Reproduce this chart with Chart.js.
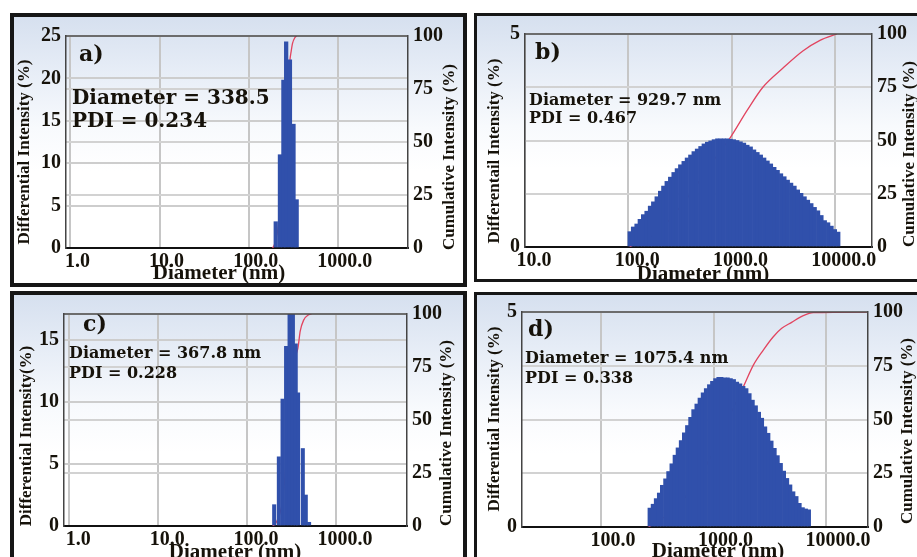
<!DOCTYPE html>
<html>
<head>
<meta charset="utf-8">
<script src="https://cdn.jsdelivr.net/npm/chart.js@4.4.0/dist/chart.umd.min.js"></script>
<style>
html, body { margin: 0; padding: 0; width: 917px; height: 557px; overflow: hidden; background: #fff; position: relative; }
.panel { position: absolute; box-sizing: border-box; border: 4px solid #161616;
  background: linear-gradient(to bottom, #d6e0ef 0%, #e8eef7 22%, #f8fafd 42%, #fff 58%); }
.panel canvas { position: absolute; left: 0; top: 0; }
</style>
</head>
<body>
<div class="panel" style="left:10px;top:13px;width:457px;height:274px"><canvas id="chart-a" width="449" height="266"></canvas></div>
<div class="panel" style="left:474px;top:13px;width:460px;height:269px;border-width:3px"><canvas id="chart-b" width="454" height="263"></canvas></div>
<div class="panel" style="left:10px;top:291px;width:457px;height:280px"><canvas id="chart-c" width="449" height="272"></canvas></div>
<div class="panel" style="left:474px;top:292px;width:460px;height:280px;border-width:3px"><canvas id="chart-d" width="454" height="274"></canvas></div>
<script>
// ---- sample a ----
const aDiam = [201, 224, 245, 263, 290, 318, 345]
const aInt = [3.1, 11.0, 19.8, 24.3, 22.2, 14.6, 5.7]
const aCumDiam = [185, 196, 218, 240, 263, 289, 300, 310, 330, 344]
const aCum = [0, 2, 12, 32, 60, 88, 93, 96.5, 99.3, 100]

// ---- sample b ----
const bDiam = [103, 111, 120, 129, 139, 150, 162, 174, 188, 203, 218, 235, 254, 274, 295, 318, 343, 369, 398, 429,
  462, 499, 537, 579, 624, 673, 726, 782, 843, 909, 980, 1056, 1138, 1227, 1323, 1426, 1537, 1657, 1786, 1925,
  2075, 2237, 2412, 2600, 2802, 3020, 3256, 3510, 3783, 4078, 4395, 4738, 5107, 5505, 5935, 6397, 6896, 7433,
  8012, 8637, 9311, 10037, 10819]
const bInt = [0.36, 0.47, 0.54, 0.65, 0.76, 0.84, 0.96, 1.06, 1.18, 1.31, 1.43, 1.54, 1.64, 1.75, 1.84, 1.93, 2.01,
  2.09, 2.16, 2.24, 2.30, 2.36, 2.42, 2.46, 2.49, 2.52, 2.54, 2.54, 2.54, 2.54, 2.53, 2.52, 2.50, 2.47, 2.44, 2.39,
  2.35, 2.28, 2.22, 2.16, 2.09, 2.02, 1.95, 1.87, 1.80, 1.72, 1.65, 1.57, 1.50, 1.43, 1.34, 1.26, 1.18, 1.10, 1.02,
  0.93, 0.85, 0.74, 0.62, 0.57, 0.49, 0.41, 0.35]
const bCumDiam = [103, 200, 400, 700, 980, 1410, 2010, 3150, 4900, 7180, 10500]
const bCum = [0, 8, 25, 42, 51.6, 64, 75, 84, 92, 97, 100]

// ---- sample c ----
const cDiam = [202, 228, 251, 275, 301, 328, 353, 375, 424, 458, 499]
const cInt = [1.72, 5.58, 10.24, 14.5, 17.1, 17.1, 14.7, 10.75, 6.25, 2.5, 0.3]
const cCumDiam = [195, 215, 251, 275, 301, 328, 353, 374, 397, 432, 495, 530]
const cCum = [0, 2, 12, 30, 50, 68, 80, 84, 92, 97, 99.7, 100]

// ---- sample d ----
const dDiam = [270, 288, 307, 327, 348, 372, 396, 423, 451, 480, 512, 546, 582, 621, 661, 705, 752, 802, 855, 912,
  971, 1035, 1104, 1177, 1256, 1340, 1426, 1521, 1622, 1730, 1845, 1963, 2094, 2234, 2382, 2541, 2704, 2884, 3076,
  3281, 3499, 3724, 3972, 4236, 4519, 4819, 5129, 5470, 5834, 6223, 6637, 7063]
const dInt = [0.44, 0.53, 0.66, 0.79, 0.97, 1.12, 1.29, 1.47, 1.67, 1.84, 2.01, 2.19, 2.36, 2.55, 2.73, 2.86, 3.00,
  3.12, 3.22, 3.31, 3.39, 3.45, 3.48, 3.48, 3.47, 3.47, 3.45, 3.43, 3.37, 3.33, 3.27, 3.22, 3.10, 2.95, 2.82, 2.67,
  2.53, 2.33, 2.18, 2.00, 1.83, 1.66, 1.48, 1.30, 1.13, 0.98, 0.82, 0.71, 0.55, 0.45, 0.42, 0.40]
const dCumDiam = [265, 480, 912, 1345, 1870, 2260, 2770, 3400, 4040, 4950, 6280, 7710, 23000]
const dCum = [0, 9.7, 31, 50, 66, 75.3, 82.3, 88.5, 92.4, 95.2, 98.3, 99.7, 100]

// axis ticks (diameters in nm, intensities in %)
const xTicksAC = [1, 10, 100, 1000]
const xTicksB = [10, 100, 1000, 10000]
const xTicksD = [100, 1000, 10000]
const yTicksA = [0, 5, 10, 15, 20, 25]
const yTicksBD = [0, 5]
const yTicksC = [0, 5, 10, 15]
const cumTicks = [0, 25, 50, 75, 100]

const ink = '#16120a'
const serif = '"Liberation Serif", "Times New Roman", serif'
const tickFont = {family: serif, size: 20, weight: 'bold'}

function vText(ctx, text, x, y){
    ctx.save()
    ctx.translate(x, y)
    ctx.rotate(-Math.PI / 2)
    ctx.fillText(text, 0, 0)
    ctx.restore()
}

function makePanel(id, o){
    const deco = {
        id: 'deco',
        afterDraw(chart){
            const {ctx, chartArea: ca} = chart
            ctx.save()
            // top edge of the plot frame
            ctx.strokeStyle = '#4a4a4a'
            ctx.lineWidth = 1.5
            ctx.beginPath()
            ctx.moveTo(ca.left, ca.top)
            ctx.lineTo(ca.right, ca.top)
            ctx.stroke()

            ctx.fillStyle = ink
            ctx.textAlign = 'center'
            ctx.textBaseline = 'middle'
            ctx.font = `bold 17px ${serif}`
            vText(ctx, o.yTitle, o.yTitlePos[0], o.yTitlePos[1])
            vText(ctx, 'Cumulative Intensity (%)', o.y2TitlePos[0], o.y2TitlePos[1])
            ctx.font = `bold 21px ${serif}`
            ctx.fillText('Diameter (nm)', o.xTitlePos[0], o.xTitlePos[1])

            ctx.textAlign = 'left'
            ctx.textBaseline = 'alphabetic'
            ctx.font = 'bold 22px "DejaVu Serif"'
            ctx.fillText(o.letter, o.letterPos[0], o.letterPos[1])
            ctx.font = `bold ${o.noteSize}px "DejaVu Serif"`
            o.notes.forEach((t, i) => ctx.fillText(t, o.notePos[0], o.notePos[1] + i * o.noteGap))
            ctx.restore()
        }
    }

    return new Chart(document.getElementById(id), {
        type: 'bar',
        data: {
            datasets: [{
                type: 'bar',
                data: o.diam.map((d, i) => ({x: Math.log10(d), y: o.inten[i]})),
                backgroundColor: '#3050ab',
                borderWidth: 0,
                barThickness: o.thick,
                yAxisID: 'y',
                order: 1
            }, {
                type: 'line',
                data: o.cumDiam.map((d, i) => ({x: Math.log10(d), y: o.cum[i]})),
                borderColor: '#e2445f',
                borderWidth: 1.3,
                pointRadius: 0,
                cubicInterpolationMode: 'monotone',
                yAxisID: 'y2',
                order: 2
            }]
        },
        options: {
            responsive: false,
            animation: false,
            events: [],
            layout: {padding: {top: o.pad.t, left: 0, right: 0, bottom: 0}},
            plugins: {legend: {display: false}, tooltip: {enabled: false}},
            scales: {
                x: {
                    type: 'linear', min: o.xMin, max: o.xMax, offset: false,
                    afterBuildTicks: s => { s.ticks = o.xTicks.map(v => ({value: Math.log10(v)})) },
                    afterFit: s => { s.height = o.pad.b },
                    ticks: {callback: v => (10 ** v).toFixed(1), font: tickFont, color: ink, padding: 2,
                        labelOffset: o.labelOffset, maxRotation: 0, autoSkip: false},
                    grid: {color: '#c6c6c6', lineWidth: 2, drawTicks: false, offset: false},
                    border: {color: '#111', width: 2}
                },
                y: {
                    position: 'left', min: 0, max: o.yMax,
                    afterBuildTicks: s => { s.ticks = o.yTicks.map(v => ({value: v})) },
                    afterFit: s => { s.width = o.pad.l },
                    ticks: {font: tickFont, color: ink, padding: 5},
                    grid: {color: '#cdcdcd', lineWidth: 2, drawTicks: false},
                    border: {color: '#444', width: 1.5}
                },
                y2: {
                    position: 'right', min: 0, max: 100,
                    afterBuildTicks: s => { s.ticks = cumTicks.map(v => ({value: v})) },
                    afterFit: s => { s.width = o.pad.r },
                    ticks: {font: tickFont, color: ink, padding: 5},
                    grid: {color: '#d2d2d2', lineWidth: 2, drawTicks: false},
                    border: {color: '#444', width: 1.5}
                }
            }
        },
        plugins: [deco]
    })
}

makePanel('chart-a', {
    diam: aDiam, inten: aInt, cumDiam: aCumDiam, cum: aCum,
    xMin: -0.05, xMax: 3.787, xTicks: xTicksAC, yMax: 25, yTicks: yTicksA,
    thick: 3.6, labelOffset: 7, pad: {l: 52, r: 55, t: 19, b: 35},
    yTitle: 'Differential Intensity (%)', yTitlePos: [11, 135], y2TitlePos: [436, 140], xTitlePos: [205, 257],
    letter: 'a)', letterPos: [65, 44],
    notes: ['Diameter = 338.5', 'PDI = 0.234'], notePos: [58, 87], noteGap: 23, noteSize: 20
})

makePanel('chart-b', {
    diam: bDiam, inten: bInt, cumDiam: bCumDiam, cum: bCum,
    xMin: 1, xMax: 4.36, xTicks: xTicksB, yMax: 5, yTicks: yTicksBD,
    thick: 3.4, labelOffset: 9, pad: {l: 48, r: 59, t: 18, b: 32},
    yTitle: 'Differentail Intensity (%)', yTitlePos: [18, 135], y2TitlePos: [433, 138], xTitlePos: [226, 259],
    letter: 'b)', letterPos: [58, 43],
    notes: ['Diameter = 929.7 nm', 'PDI = 0.467'], notePos: [52, 89], noteGap: 18, noteSize: 16
})

makePanel('chart-c', {
    diam: cDiam, inten: cInt, cumDiam: cCumDiam, cum: cCum,
    xMin: -0.06, xMax: 3.80, xTicks: xTicksAC, yMax: 17.1, yTicks: yTicksC,
    thick: 3.4, labelOffset: 9, pad: {l: 50, r: 56, t: 19, b: 41},
    yTitle: 'Differential Intensity(%)', yTitlePos: [13, 141], y2TitlePos: [433, 138], xTitlePos: [221, 258],
    letter: 'c)', letterPos: [69, 36],
    notes: ['Diameter = 367.8 nm', 'PDI = 0.228'], notePos: [55, 63], noteGap: 20, noteSize: 16
})

makePanel('chart-d', {
    diam: dDiam, inten: dInt, cumDiam: dCumDiam, cum: dCum,
    xMin: 1.298, xMax: 4.373, xTicks: xTicksD, yMax: 5, yTicks: yTicksBD,
    thick: 3.2, labelOffset: 12, pad: {l: 45, r: 63, t: 17, b: 42},
    yTitle: 'Differential Intensity (%)', yTitlePos: [18, 124], y2TitlePos: [431, 136], xTitlePos: [241, 257],
    letter: 'd)', letterPos: [51, 41],
    notes: ['Diameter = 1075.4 nm', 'PDI = 0.338'], notePos: [48, 68], noteGap: 20, noteSize: 16
})
</script>
</body>
</html>
